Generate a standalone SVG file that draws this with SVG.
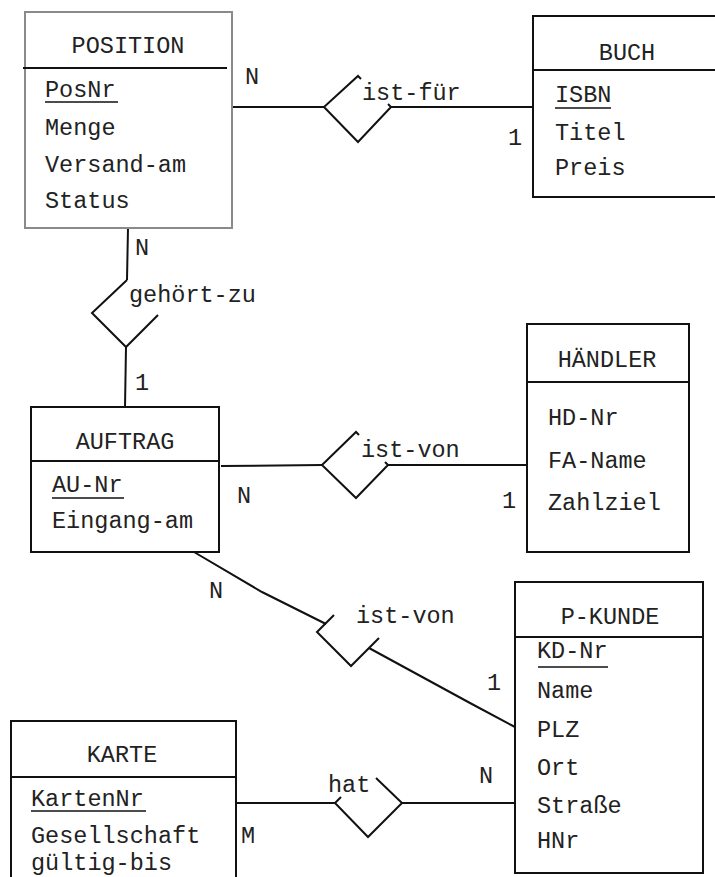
<svg xmlns="http://www.w3.org/2000/svg" width="715" height="877" viewBox="0 0 715 877">
<style>
text{font-family:"Liberation Mono","Courier New",monospace;font-size:23.5px;fill:#222}
.t{text-anchor:middle}
.box{fill:#fff;stroke:#111;stroke-width:2}
.gray{stroke:#8a8a8a}
.ln{fill:none;stroke:#111;stroke-width:2;stroke-linecap:butt;stroke-linejoin:miter}
</style>
<rect width="715" height="877" fill="#fff"/>
<g id="connectors" class="ln">
<line x1="232" y1="107" x2="324" y2="107"/>
<line x1="391" y1="107" x2="533" y2="107"/>
<line x1="128" y1="228" x2="127" y2="280"/>
<line x1="126" y1="347" x2="125" y2="407"/>
<line x1="221" y1="466" x2="322" y2="465"/>
<line x1="388" y1="465" x2="527" y2="465"/>
<polyline points="194,552 262,592 326,624"/>
<polyline points="369,648 470,703 515,727"/>
<line x1="236" y1="803" x2="335" y2="803"/>
<line x1="402" y1="803" x2="515" y2="803"/>
</g>
<g id="POSITION">
<rect class="box gray" x="25" y="12" width="207" height="216"/>
<line class="ln" x1="23" y1="68" x2="227" y2="68"/>
<text class="t" x="128" y="53">POSITION</text>
<text x="45" y="97">PosNr</text>
<line class="ln" x1="45" y1="102" x2="118" y2="102" style="stroke-width:1.5"/>
<text x="45" y="135">Menge</text>
<text x="45" y="172">Versand-am</text>
<text x="45" y="208">Status</text>
</g>
<g id="BUCH">
<rect class="box" x="533" y="16" width="200" height="181"/>
<line class="ln" x1="533" y1="70" x2="715" y2="70"/>
<text class="t" x="627" y="60">BUCH</text>
<text x="555" y="102">ISBN</text>
<line class="ln" x1="555" y1="108" x2="611" y2="108" style="stroke-width:1.5"/>
<text x="555" y="140">Titel</text>
<text x="555" y="175">Preis</text>
</g>
<g id="ist-fuer">
<polyline class="ln" points="361,79 358,76 324,107 358,142 391,107 388,104"/>
<text x="362" y="100">ist-für</text>
</g>
<g id="gehoert-zu">
<polyline class="ln" points="127,280 92,313 126,347 158,315"/>
<text x="129" y="302">gehört-zu</text>
</g>
<g id="AUFTRAG">
<rect class="box" x="31" y="407" width="188" height="145"/>
<line class="ln" x1="31" y1="461" x2="219" y2="461"/>
<text class="t" x="125" y="449">AUFTRAG</text>
<text x="52" y="492">AU-Nr</text>
<line class="ln" x1="52" y1="498" x2="124" y2="498" style="stroke-width:1.5"/>
<text x="52" y="528">Eingang-am</text>
</g>
<g id="ist-von-1">
<polyline class="ln" points="359,435 356,432 322,465 356,498 388,465 385,462"/>
<text x="361" y="457">ist-von</text>
</g>
<g id="HAENDLER">
<rect class="box" x="527" y="324" width="162" height="228"/>
<line class="ln" x1="527" y1="382" x2="689" y2="382"/>
<text class="t" x="607" y="367">HÄNDLER</text>
<text x="548" y="425">HD-Nr</text>
<text x="548" y="468">FA-Name</text>
<text x="548" y="510">Zahlziel</text>
</g>
<g id="ist-von-2">
<polyline class="ln" points="334,615 317,632 351,666 379,638"/>
<text x="356" y="623">ist-von</text>
</g>
<g id="P-KUNDE">
<rect class="box" x="515" y="582" width="188" height="291"/>
<line class="ln" x1="515" y1="637" x2="703" y2="637"/>
<text class="t" x="610" y="624">P-KUNDE</text>
<text x="537" y="658">KD-Nr</text>
<line class="ln" x1="538" y1="667" x2="608" y2="667" style="stroke-width:1.5"/>
<text x="537" y="698">Name</text>
<text x="537" y="737">PLZ</text>
<text x="537" y="775">Ort</text>
<text x="537" y="813">Straße</text>
<text x="537" y="848">HNr</text>
</g>
<g id="KARTE">
<rect class="box" x="11" y="721" width="225" height="170"/>
<line class="ln" x1="11" y1="777" x2="236" y2="777"/>
<text class="t" x="122" y="762">KARTE</text>
<text x="31" y="806">KartenNr</text>
<line class="ln" x1="31" y1="811" x2="146" y2="811" style="stroke-width:1.5"/>
<text x="31" y="843">Gesellschaft</text>
<text x="31" y="870">gültig-bis</text>
</g>
<g id="hat">
<polyline class="ln" points="341,797 335,803 368,837 402,803 376,778"/>
<text x="328" y="792">hat</text>
</g>
<g id="cardinalities">
<text x="245" y="84">N</text>
<text x="508" y="145">1</text>
<text x="135" y="255">N</text>
<text x="135" y="390">1</text>
<text x="237" y="503">N</text>
<text x="502" y="508">1</text>
<text x="209" y="598">N</text>
<text x="487" y="690">1</text>
<text x="241" y="843">M</text>
<text x="479" y="783">N</text>
</g>
</svg>
